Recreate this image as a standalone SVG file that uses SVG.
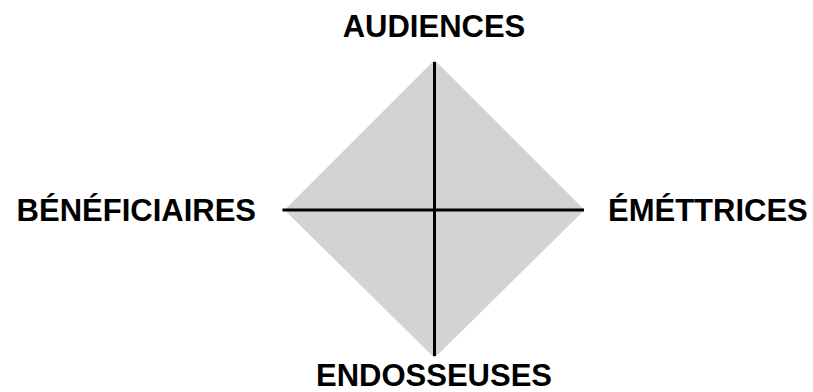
<svg xmlns="http://www.w3.org/2000/svg" width="813" height="392" viewBox="0 0 813 392">
<style>
.lbl{font-family:"Liberation Sans",Arial,Helvetica,sans-serif;font-weight:bold;font-size:31px;fill:#000}
.ax{stroke:#000;stroke-width:3;fill:none}
</style>
<rect width="813" height="392" fill="#fff"/>
<g id="diamond"><polygon points="434.5,60 584.5,210 434.5,358 284.5,210" fill="#d3d3d3"/></g>
<g id="connectors">
<line class="ax" x1="282.5" y1="210" x2="584" y2="210"/>
<line class="ax" x1="434.5" y1="62" x2="434.5" y2="356"/>
</g>
<g id="audiences"><text class="lbl" x="434" y="37" text-anchor="middle">AUDIENCES</text></g>
<g id="beneficiaires"><text class="lbl" x="256" y="221" text-anchor="end">BÉNÉFICIAIRES</text></g>
<g id="emettrices"><text class="lbl" x="608" y="221">ÉMÉTTRICES</text></g>
<g id="endosseuses"><text class="lbl" x="434" y="386" text-anchor="middle">ENDOSSEUSES</text></g>
</svg>
